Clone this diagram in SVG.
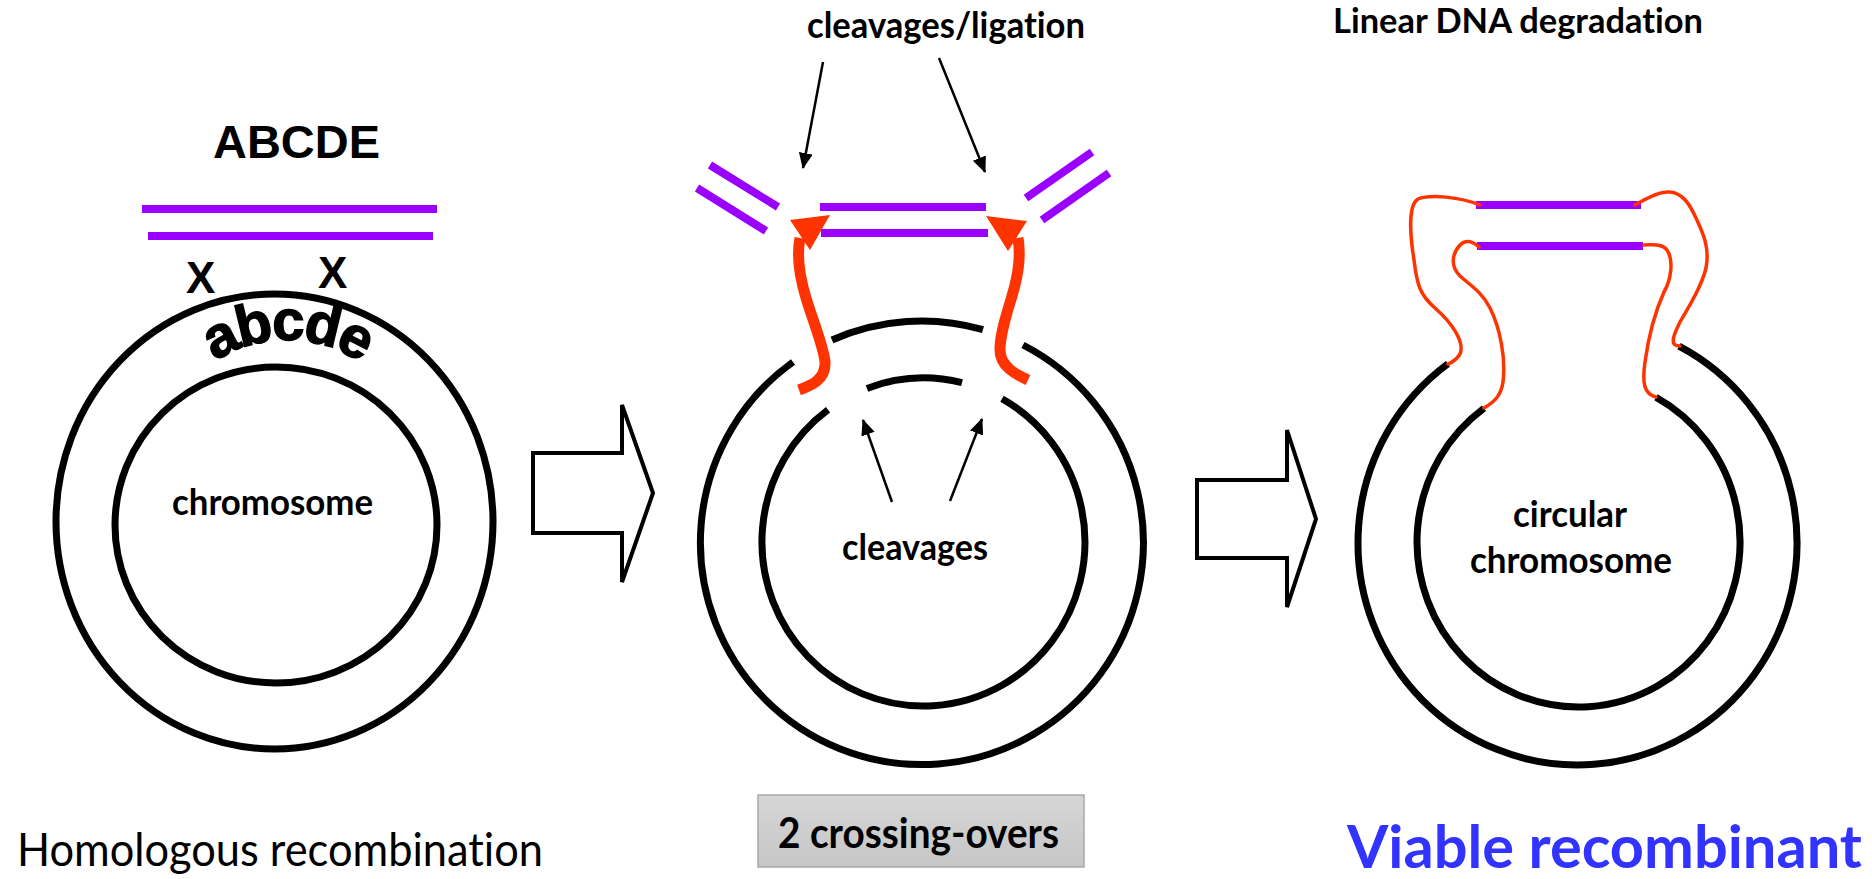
<svg xmlns="http://www.w3.org/2000/svg" width="1872" height="879" viewBox="0 0 1872 879">
  <style>
    .ring { fill: none; stroke: #000; stroke-width: 7; }
    .dna { stroke: #9900ff; stroke-width: 8; fill: none; }
    .thin-red { fill: none; stroke: #ff3300; stroke-width: 3.5; stroke-linecap: round; }
    .thick-red { fill: none; stroke: #ff3300; stroke-width: 11; }
    .red-head { fill: #ff3300; }
    .ptr { stroke: #000; stroke-width: 2.5; fill: none; marker-end: url(#head); }
    .block { fill: #fff; stroke: #000; stroke-width: 4; stroke-linejoin: miter; }
    .cal { font-family: Lato, "Open Sans", "DejaVu Sans", sans-serif; fill: #000; font-variant-ligatures: none; font-feature-settings: "liga" 0, "dlig" 0; }
    .b { font-weight: bold; }
    .arial { font-family: "Liberation Sans", Arial, sans-serif; font-weight: bold; fill: #000; }
    .wordart { stroke: #000; stroke-width: 1.4; letter-spacing: -3px; }
  </style>
  <defs>
    <marker id="head" markerUnits="userSpaceOnUse" markerWidth="18" markerHeight="16" refX="15" refY="7" orient="auto">
      <path d="M0,0 L16,7 L0,14 z" fill="#000"/>
    </marker>
    <linearGradient id="boxFill" x1="0" y1="0" x2="0" y2="1">
      <stop offset="0" stop-color="#d6d6d6"/>
      <stop offset="1" stop-color="#c6c6c6"/>
    </linearGradient>
    <path id="abcdeArc" d="M157,470 A130,130 0 0 1 417,470"/>
  </defs>

  <rect width="1872" height="879" fill="#fff"/>

  <!-- Stage 1: chromosome with homologous fragment -->
  <g id="stage1-chromosome">
    <ellipse class="ring" cx="274.5" cy="521.5" rx="218.5" ry="227.5"/>
    <ellipse class="ring" cx="276" cy="525" rx="161" ry="158"/>
    <text class="cal b" x="172" y="515" font-size="36" textLength="201" lengthAdjust="spacingAndGlyphs">chromosome</text>
    <text class="arial wordart" font-size="58"><textPath href="#abcdeArc" startOffset="50%" text-anchor="middle">abcde</textPath></text>
  </g>
  <g id="stage1-fragment">
    <text class="arial" x="213" y="158" font-size="47" textLength="167" lengthAdjust="spacingAndGlyphs">ABCDE</text>
    <line class="dna" x1="142" y1="209" x2="437" y2="209"/>
    <line class="dna" x1="148" y1="236" x2="433" y2="236"/>
    <text class="arial" x="186" y="293" font-size="44">X</text>
    <text class="arial" x="318" y="288" font-size="44">X</text>
  </g>

  <!-- Stage 2: cleavage and exchange -->
  <g id="stage2-chromosome">
    <path class="ring" d="M793,362 A221.5,222 0 1 0 1023,345"/>
    <path class="ring" d="M832,340 A221.5,222 0 0 1 983,329.7"/>
    <path class="ring" d="M828,409.7 A161.5,164 0 1 0 1002,398.7"/>
    <path class="ring" d="M867,388.4 A161.5,164 0 0 1 962,382.7"/>
    <text class="cal b" x="842" y="560" font-size="36" textLength="146" lengthAdjust="spacingAndGlyphs">cleavages</text>
  </g>
  <g id="stage2-fragment">
    <line class="dna" x1="710" y1="165" x2="778" y2="207"/>
    <line class="dna" x1="697" y1="188" x2="766" y2="231"/>
    <line class="dna" x1="820" y1="207" x2="986" y2="207"/>
    <line class="dna" x1="821" y1="233" x2="988" y2="233"/>
    <line class="dna" x1="1026" y1="198" x2="1092" y2="152"/>
    <line class="dna" x1="1042" y1="220" x2="1109" y2="173"/>
  </g>
  <g id="stage2-exchange">
    <path class="thick-red" d="M799,390 C810,386 826,380 825,362 C824,348 812,318 806,298 C800,278 796,258 800,238"/>
    <polygon class="red-head" points="790,220 830,215 810,250"/>
    <path class="thick-red" d="M1028,380 C1015,374 1000,366 1000,350 C1000,330 1010,305 1015,285 C1020,265 1020,250 1018,238"/>
    <polygon class="red-head" points="986,216 1027,221 1008,251"/>
  </g>
  <g id="label-cleavages-ligation">
    <text class="cal b" x="807" y="38" font-size="36" textLength="278" lengthAdjust="spacingAndGlyphs">cleavages/ligation</text>
  </g>
  <g id="label-crossing-overs">
    <rect x="758" y="795" width="326" height="72" fill="url(#boxFill)" stroke="#a8a8a8" stroke-width="1.5"/>
    <text class="cal b" x="778" y="848" font-size="42" textLength="281" lengthAdjust="spacingAndGlyphs">2 crossing-overs</text>
  </g>

  <!-- Stage 3: recombinant circle -->
  <g id="stage3-chromosome">
    <path class="ring" d="M1448,363.7 A219.5,222 0 1 0 1679,346.1"/>
    <path class="ring" d="M1484,408.2 A161.5,165 0 1 0 1656,397.2"/>
    <text class="cal b" x="1513" y="527" font-size="36" textLength="114" lengthAdjust="spacingAndGlyphs">circular</text>
    <text class="cal b" x="1470" y="573" font-size="36" textLength="202" lengthAdjust="spacingAndGlyphs">chromosome</text>
  </g>
  <g id="stage3-insert">
    <line class="dna" x1="1476" y1="205" x2="1641" y2="205"/>
    <line class="dna" x1="1477" y1="246" x2="1643" y2="246"/>
    <path class="thin-red" d="M1480,205 C1460,197 1430,194 1418,199 C1408,205 1410,235 1414,260 C1417,285 1420,295 1435,308 C1452,323 1465,342 1460,354 C1457,359 1453,362 1448,364"/>
    <path class="thin-red" d="M1479,247 C1472,241 1466,239 1460,245 C1452,254 1450,266 1460,276 C1470,285 1482,292 1490,308 C1500,328 1506,358 1503,382 C1501,396 1494,402 1484,408"/>
    <path class="thin-red" d="M1644,245 C1652,245 1662,243 1667,250 C1674,260 1671,280 1664,292 C1655,312 1648,340 1645,362 C1642,383 1644,394 1656,397"/>
    <path class="thin-red" d="M1635,205 C1645,199 1660,191 1670,192 C1683,193 1690,205 1696,218 C1703,233 1710,248 1706,268 C1702,285 1690,305 1680,322 C1672,338 1670,346 1680,346"/>
  </g>
  <g id="label-linear-degradation">
    <text class="cal b" x="1333" y="33" font-size="35" textLength="370" lengthAdjust="spacingAndGlyphs">Linear DNA degradation</text>
  </g>

  <!-- Captions -->
  <g id="caption-homologous">
    <text class="cal" x="17" y="866" font-size="46" textLength="526" lengthAdjust="spacingAndGlyphs">Homologous recombination</text>
  </g>
  <g id="caption-viable">
    <text class="cal b" x="1347" y="868" font-size="60" style="fill:#3333ff" textLength="515" lengthAdjust="spacingAndGlyphs">Viable recombinant</text>
  </g>

  <!-- Connectors -->
  <g id="connectors">
    <polygon class="block" points="533,453 622,453 622,405 653,493 622,582 622,533 533,533"/>
    <polygon class="block" points="1197,480 1287,480 1287,430 1316,519 1287,607 1287,558 1197,558"/>
    <line class="ptr" x1="823" y1="62" x2="803" y2="168"/>
    <line class="ptr" x1="939" y1="58" x2="985" y2="172"/>
    <line class="ptr" x1="892" y1="502" x2="863" y2="420"/>
    <line class="ptr" x1="950" y1="501" x2="982" y2="419"/>
  </g>
</svg>
